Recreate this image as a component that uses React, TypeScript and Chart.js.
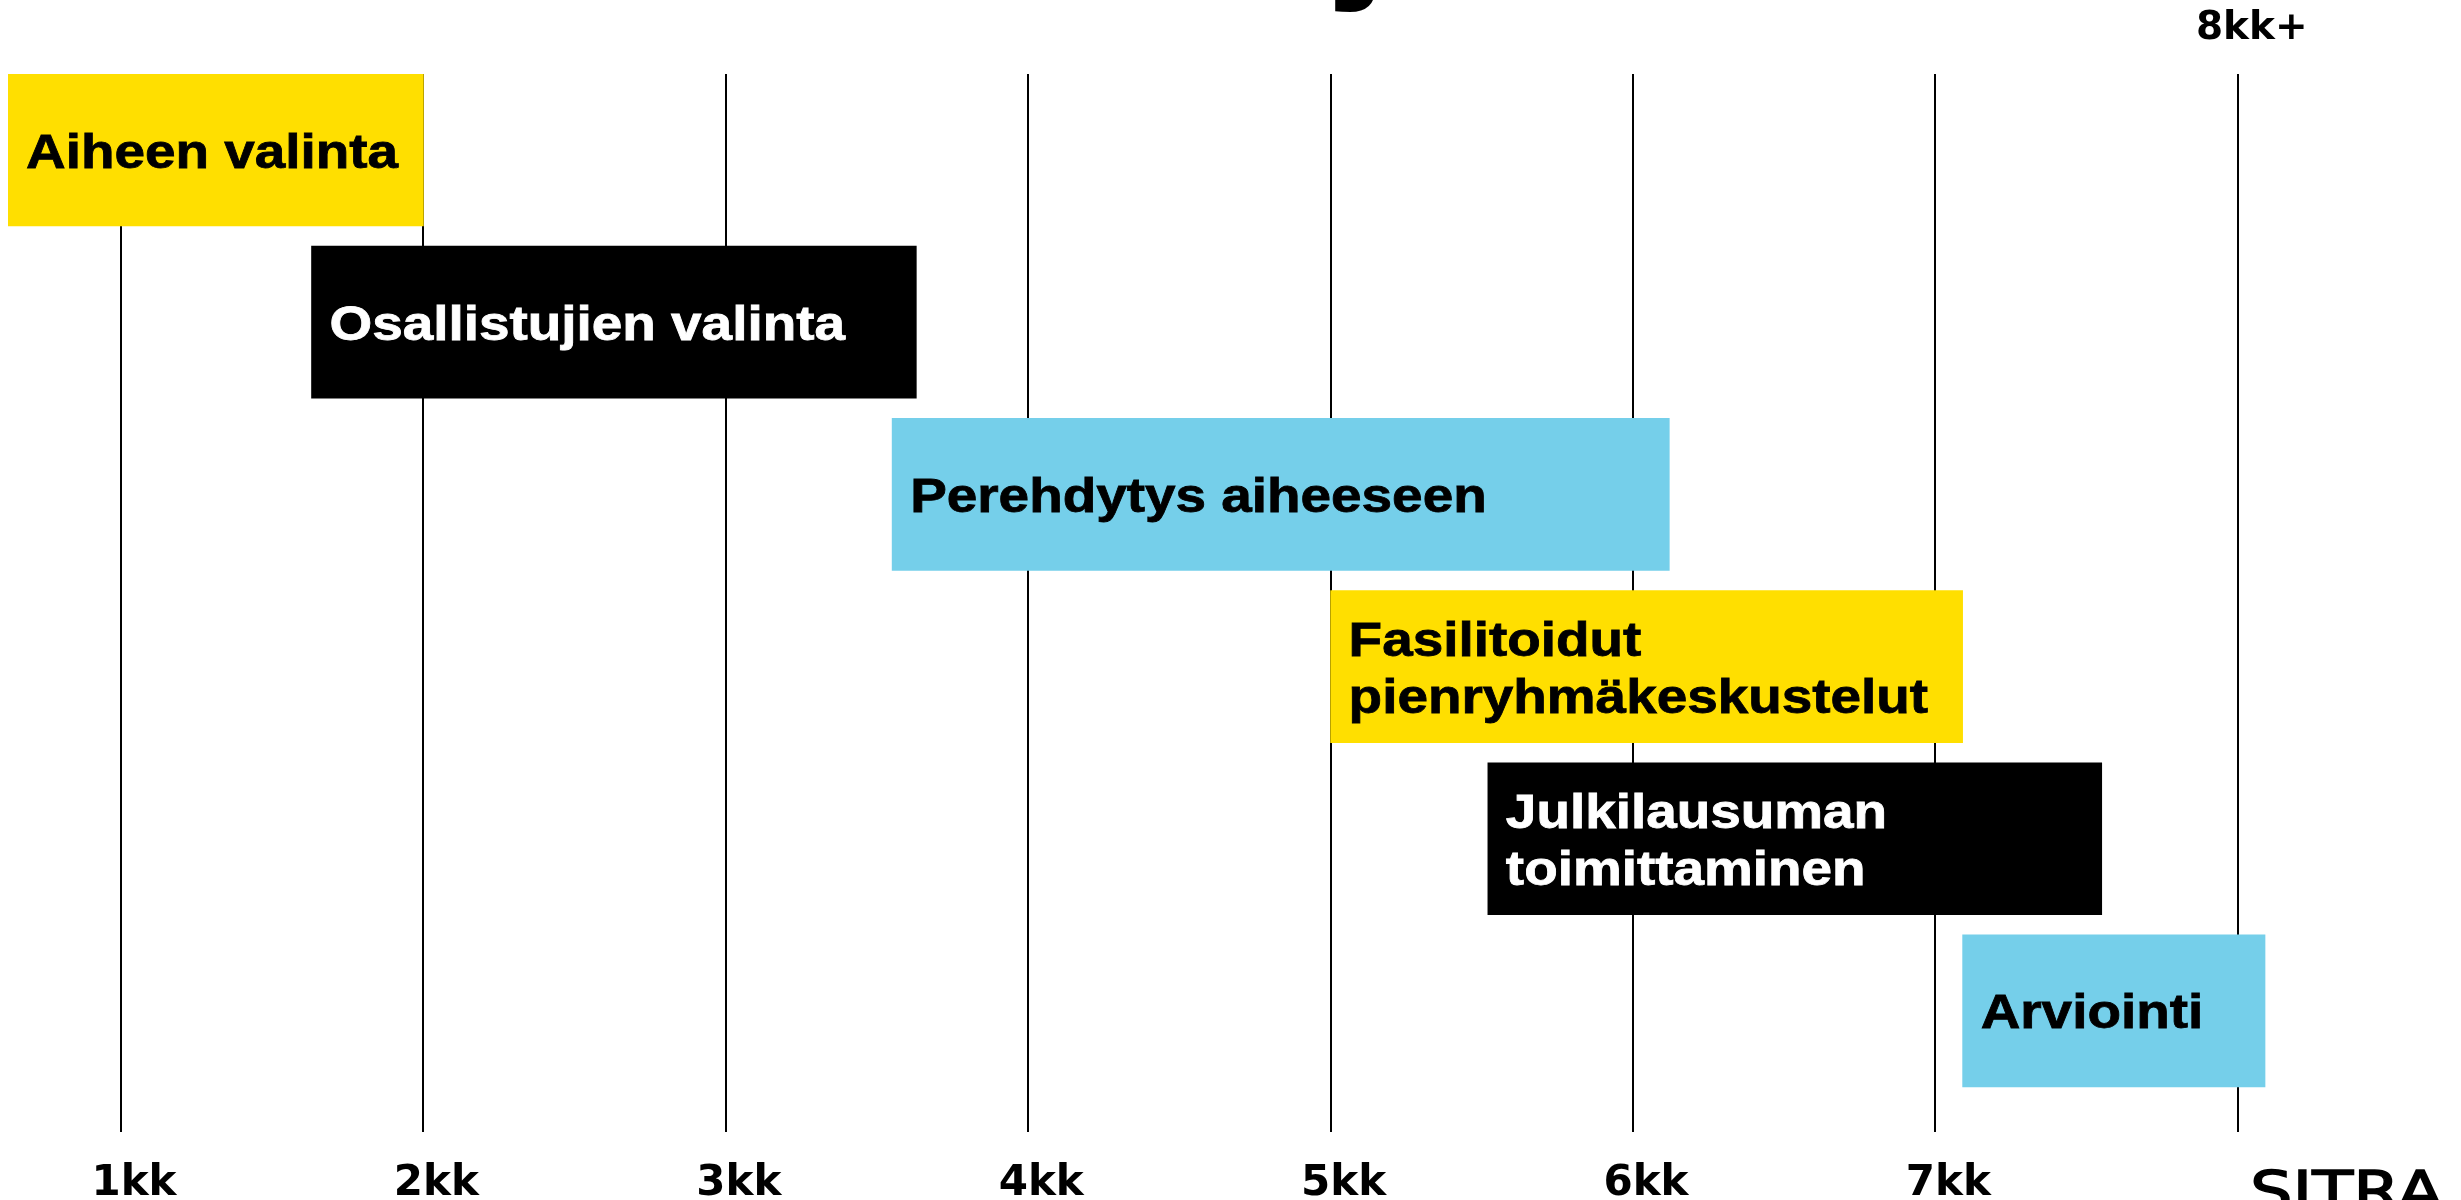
import React, { useEffect, useRef } from "react";
import { Chart, registerables } from "chart.js";

Chart.register(...registerables);

// ---- data ----
const taskLabels: string[] = [
  "Aiheen valinta",
  "Osallistujien valinta",
  "Perehdytys aiheeseen",
  "Fasilitoidut\npienryhmäkeskustelut",
  "Julkilausuman\ntoimittaminen",
  "Arviointi",
];
const taskStarts: number[] = [0.5, 1.63, 3.55, 5.0, 5.52, 7.09];
const taskEnds: number[] = [2.0, 3.63, 6.12, 7.09, 7.55, 8.09];

const tickValues: number[] = [1, 2, 3, 4, 5, 6, 7, 8];
const bottomTickLabels: string[] = ["1kk", "2kk", "3kk", "4kk", "5kk", "6kk", "7kk", ""];
const topTickLabels: string[] = ["", "", "", "", "", "", "", "8kk+"];

const titleText = "j";
const logoText = "SITRA";

// ---- styles ----
const YELLOW = "#FFDF00";
const BLUE = "#75CFEA";
const BLACK = "#000000";
const barPalette = [YELLOW, BLACK, BLUE, YELLOW, BLACK, BLUE];
const textPalette = ["#000", "#fff", "#000", "#000", "#fff", "#000"];

const X_MIN = 0.6263;
const X_MAX = 8.7116;
const CANVAS_TOP = -16; // page y of the canvas top

const taskLabelPlugin = {
  id: "taskLabels",
  afterDatasetsDraw(chart: any) {
    const { ctx, chartArea } = chart;
    const meta = chart.getDatasetMeta(0);
    const size = 49;
    const capH = size * 0.716;
    const lh = 57;
    ctx.save();
    ctx.font = `bold ${size}px "Liberation Sans", Arial, sans-serif`;
    ctx.textAlign = "left";
    ctx.textBaseline = "alphabetic";
    meta.data.forEach((bar: any, i: number) => {
      const p = bar.getProps(["x", "y", "base"], true);
      const left = Math.max(Math.min(p.x, p.base), chartArea.left);
      const lines = taskLabels[i].split("\n");
      const first = p.y - ((lines.length - 1) * lh) / 2 + capH / 2;
      ctx.fillStyle = textPalette[i];
      ctx.strokeStyle = textPalette[i];
      ctx.lineWidth = 0.8;
      lines.forEach((line: string, j: number) => {
        ctx.save();
        ctx.translate(left + 18, first + j * lh);
        ctx.scale(1.12, 1);
        ctx.fillText(line, 0, 0);
        ctx.strokeText(line, 0, 0);
        ctx.restore();
      });
    });
    ctx.restore();
  },
};

const decorPlugin = {
  id: "decor",
  afterDraw(chart: any) {
    const { ctx } = chart;
    ctx.save();
    ctx.fillStyle = "#000";
    ctx.textAlign = "left";
    ctx.textBaseline = "alphabetic";
    // cut-off title (only a descender is visible)
    ctx.font = 'bold 160px "Liberation Sans", Arial, sans-serif';
    ctx.save();
    ctx.translate(1330, -21 - CANVAS_TOP);
    ctx.scale(1.12, 1);
    ctx.fillText(titleText, 0, 0);
    ctx.restore();
    // logo
    ctx.font = '56px "DejaVu Sans", sans-serif';
    ctx.strokeStyle = "#000";
    ctx.lineWidth = 1.5;
    const w = ctx.measureText(logoText).width;
    ctx.save();
    ctx.translate(2242, 1210 - CANVAS_TOP);
    ctx.scale(193 / w, 1);
    ctx.fillText(logoText, 0, 0);
    ctx.strokeText(logoText, 0, 0);
    ctx.restore();
    ctx.restore();
  },
};

export default function App() {
  const ref = useRef<HTMLCanvasElement | null>(null);

  useEffect(() => {
    document.documentElement.style.overflow = "hidden";
    document.body.style.overflow = "hidden";
    if (!ref.current) return;
    const setTicks = (scale: any) => {
      scale.ticks = tickValues.map((v) => ({ value: v }));
    };
    const chart = new Chart(ref.current, {
      type: "bar",
      data: {
        datasets: [
          {
            data: taskStarts.map((s, i) => ({ x: [s, taskEnds[i]], y: i })) as any,
            backgroundColor: barPalette,
            borderWidth: 0,
            barThickness: 152,
            xAxisID: "x",
            yAxisID: "y",
          } as any,
        ],
      },
      options: {
        indexAxis: "y",
        animation: false,
        responsive: true,
        maintainAspectRatio: false,
        layout: { padding: 0 },
        plugins: {
          legend: { display: false },
          tooltip: { enabled: false },
          title: { display: false },
        },
        scales: {
          x: {
            type: "linear",
            position: "bottom",
            min: X_MIN,
            max: X_MAX,
            offset: false,
            z: 1,
            afterBuildTicks: setTicks,
            grid: { color: "#000", lineWidth: 2, drawTicks: false, offset: false },
            border: { display: false },
            ticks: {
              autoSkip: false,
              maxRotation: 0,
              minRotation: 0,
              padding: 31,
              labelOffset: 13,
              color: "#000",
              font: { family: '"DejaVu Sans", sans-serif', weight: "bold", size: 42, lineHeight: "42px" },
              callback: (_v: any, idx: number) => bottomTickLabels[idx] ?? "",
            },
          },
          x2: {
            type: "linear",
            position: "top",
            min: X_MIN,
            max: X_MAX,
            offset: false,
            afterBuildTicks: setTicks,
            grid: { display: false, drawTicks: false },
            border: { display: false },
            ticks: {
              autoSkip: false,
              maxRotation: 0,
              minRotation: 0,
              padding: 21,
              labelOffset: 14,
              color: "#000",
              font: { family: '"DejaVu Sans", sans-serif', weight: "bold", size: 39, lineHeight: "48px" },
              callback: (_v: any, idx: number) => topTickLabels[idx] ?? "",
            },
          },
          y: {
            type: "linear",
            reverse: true,
            min: -0.4413,
            max: 5.703,
            offset: false,
            grace: 0,
            display: false,
          },
        } as any,
      },
      plugins: [taskLabelPlugin, decorPlugin],
    });
    return () => chart.destroy();
  }, []);

  return (
    <div style={{ position: "fixed", left: 8, top: CANVAS_TOP, width: 2445, height: 1252 }}>
      <canvas ref={ref} />
    </div>
  );
}
